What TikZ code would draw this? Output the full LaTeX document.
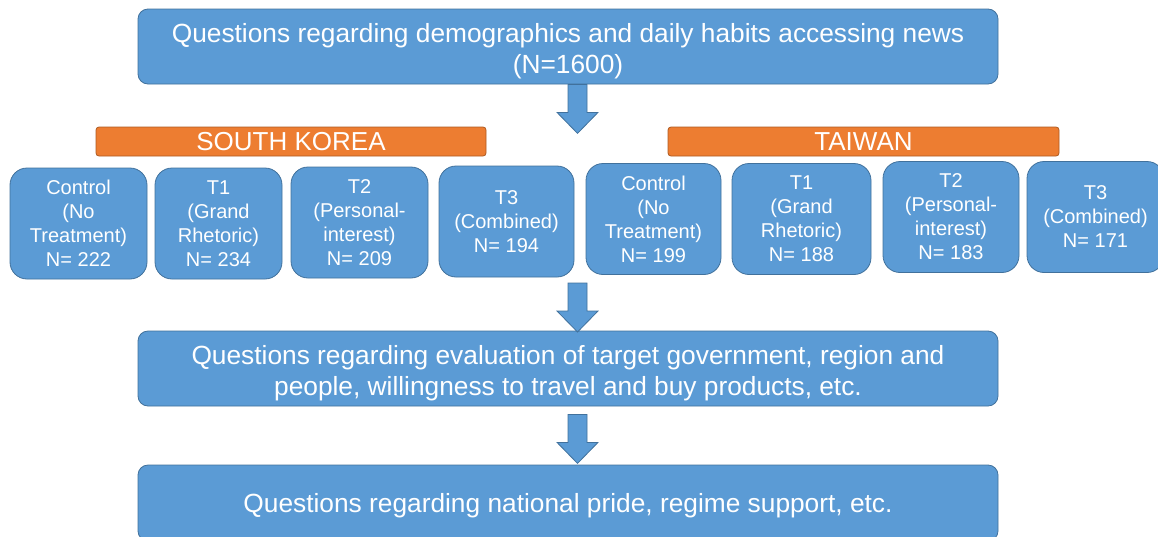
\documentclass[tikz,border=0pt]{standalone}
\usepackage{fontspec}
\setmainfont{Liberation Sans}
\usetikzlibrary{calc}
\definecolor{boxblue}{HTML}{5B9BD5}
\definecolor{boxedge}{HTML}{41719C}
\definecolor{barorange}{HTML}{ED7D31}
\definecolor{baredge}{HTML}{AE5A21}
% taller first line sets the text a little below the box centre
\newcommand\lowstrut[1]{\rule{0pt}{#1}}
\begin{document}
\begin{tikzpicture}[x=1pt,y=-1pt,
  wide/.style={draw=boxedge, line width=0.8pt, fill=boxblue, rounded corners=10pt,
    text=white, align=center, minimum width=860pt, inner sep=0pt,
    font=\fontsize{26.3}{31}\selectfont},
  arm/.style={draw=boxedge, line width=0.8pt, fill=boxblue, rounded corners=17pt,
    text=white, align=center, minimum height=111pt, inner sep=0pt,
    font=\fontsize{20}{24}\selectfont},
  country/.style={draw=baredge, line width=0.8pt, fill=barorange, rounded corners=3pt,
    text=white, minimum width=390pt, minimum height=29pt, inner sep=0pt,
    font=\fontsize{26}{30}\selectfont},
  blockarrow/.style={draw=boxedge, line width=0.8pt, fill=boxblue},
  downarr/.pic={\path[blockarrow] (-9.5,0) -- (-9.5,28) -- (-20.5,28) -- (0,49)
      -- (20.5,28) -- (9.5,28) -- (9.5,0) -- cycle;}
]
\useasboundingbox (0,0) rectangle (1158,536);
\clip (0,0) rectangle (1158,536);

% survey stages
\node[wide, minimum height=75pt] (intro) at (568,46.5)
  {\lowstrut{1.05em}Questions regarding demographics and daily habits accessing news\\(N=1600)};
\node[wide, minimum height=75pt] (eval) at (568,368.5)
  {\lowstrut{1.05em}Questions regarding evaluation of target government, region and\\people, willingness to travel and buy products, etc.};
\node[wide, minimum height=76pt] (pride) at (568,503)
  {\lowstrut{0.9em}Questions regarding national pride, regime support, etc.};

% country labels
\node[country] (korea) at (291,141.5) {SOUTH KOREA};
\node[country, minimum width=391pt] (taiwan) at (863.5,141.5) {TAIWAN};

% treatment arms
\node[arm, minimum width=137pt] (krc)  at (78.5,223.5)  {Control\\(No\\Treatment)\\N= 222};
\node[arm, minimum width=127pt] (krt1) at (218.5,223.5) {T1\\(Grand\\Rhetoric)\\N= 234};
\node[arm, minimum width=137pt] (krt2) at (359.5,222.5) {T2\\(Personal-\\interest)\\N= 209};
\node[arm, minimum width=135pt] (krt3) at (506.5,221.5) {T3\\(Combined)\\N= 194};
\node[arm, minimum width=135pt] (twc)  at (653.5,219)   {Control\\(No\\Treatment)\\N= 199};
\node[arm, minimum width=139pt] (twt1) at (801.5,219)   {T1\\(Grand\\Rhetoric)\\N= 188};
\node[arm, minimum width=136pt] (twt2) at (951,217)     {T2\\(Personal-\\interest)\\N= 183};
\node[arm, minimum width=137pt] (twt3) at (1095.5,217)  {T3\\(Combined)\\N= 171};

% flow arrows
\pic at ($(intro.south)+(9.5,0)$) {downarr};
\coordinate (rowbottom) at (577.5,283);
\pic at (rowbottom) {downarr};
\pic at ($(eval.south)+(9.5,8)$) {downarr};
\end{tikzpicture}
\end{document}
